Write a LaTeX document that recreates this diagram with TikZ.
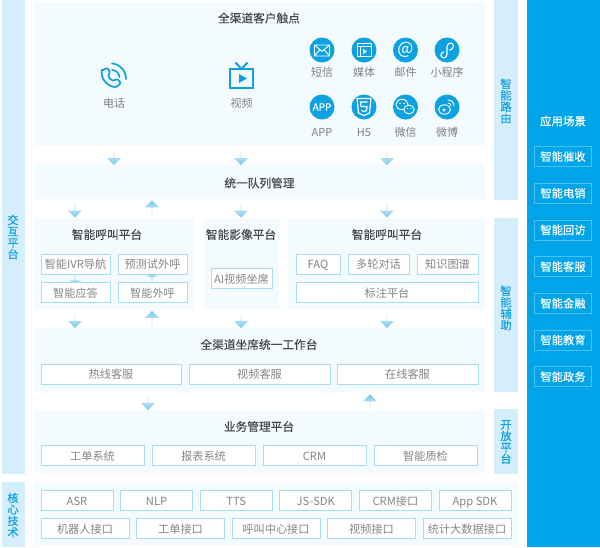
\documentclass[tikz,border=0pt]{standalone}
\usepackage{fontspec}
\setmainfont{Noto Sans CJK SC}
\newfontfamily\medfont[FakeBold=0.12]{Noto Sans CJK SC}
\newfontfamily\bandfont[FakeBold=0.3]{Noto Sans CJK SC}
\usepackage{xcolor}
\usetikzlibrary{shapes.arrows,positioning}

\definecolor{bandblue}{HTML}{D4EEFB}
\definecolor{panelblue}{HTML}{F4FBFF}
\definecolor{chipline}{HTML}{A8DCF1}
\definecolor{deepblue}{HTML}{00A5E9}
\definecolor{iconblue}{HTML}{0EA1E1}

\begin{document}
\begin{tikzpicture}[x=1pt, y=-1pt,
    band/.style={rectangle, fill=bandblue, anchor=north west, inner sep=0pt},
    bandtext/.style={align=center, text=iconblue, font=\fontsize{11.3}{11.4}\bandfont},
    panel/.style={rectangle, fill=panelblue, anchor=north west, inner sep=0pt},
    title/.style={text=black!72, inner sep=0pt, font=\fontsize{11.7}{14}\medfont},
    chip/.style={rectangle, draw=chipline, fill=white, line width=0.8pt, inner sep=0pt, outer sep=0pt, minimum height=20pt, text height=10.5pt, text depth=1pt, text=black!48, font=\fontsize{11.2}{13}\selectfont},
    appchip/.style={rectangle, draw=white!30!deepblue, line width=0.8pt, inner sep=0pt, outer sep=0pt, minimum width=57pt, minimum height=20pt, text=white, font=\fontsize{11.3}{13}\medfont},
    ball/.style={circle, fill=iconblue, inner sep=0pt, minimum size=25pt},
    balltext/.style={text=black!50, inner sep=0pt, font=\fontsize{11}{13}\selectfont},
    glyph/.style={draw=white, line width=0.9pt, line join=round, line cap=round},
    softdown/.style={single arrow, shape border rotate=270, minimum width=14pt, minimum height=15pt, single arrow head extend=3.5pt, inner sep=0pt, top color=bandblue!85, bottom color=chipline!70!iconblue},
    softup/.style={single arrow, shape border rotate=90, minimum width=14pt, minimum height=15pt, single arrow head extend=3.5pt, inner sep=0pt, top color=chipline!70!iconblue, bottom color=bandblue!85},
    tinydown/.style={softdown, minimum height=7pt, minimum width=12pt, single arrow head extend=2pt, single arrow tip angle=130},
    tinyup/.style={softup, minimum height=7pt, minimum width=12pt, single arrow head extend=2pt, single arrow tip angle=130}]

    \path [use as bounding box, fill=white] (0,0) rectangle (600,547);

    % side bands
    \node [band, minimum width=23pt, minimum height=474pt] (bandleft) at (2,0) {};
    \node [band, minimum width=23pt, minimum height=65pt] (bandcore) at (2,482) {};
    \node [band, minimum width=24pt, minimum height=200pt] (bandroute) at (494,0) {};
    \node [band, minimum width=24pt, minimum height=174pt] (bandassist) at (494,218) {};
    \node [band, minimum width=24pt, minimum height=65pt] (bandopen) at (494,409) {};
    \node [bandtext] (lblleft) at (13,237) {交\\互\\平\\台};
    \node [bandtext] (lblcore) at (13,515) {核\\心\\技\\术};
    \node [bandtext] (lblroute) at (506,101) {智\\能\\路\\由};
    \node [bandtext] (lblassist) at (506,308) {智\\能\\辅\\助};
    \node [bandtext] (lblopen) at (506,442) {开\\放\\平\\台};

    % panels
    \node [panel, minimum width=451pt, minimum height=144pt] (touch) at (34,2) {};
    \node [panel, minimum width=451pt, minimum height=35pt] (queue) at (34,164) {};
    \node [panel, minimum width=160pt, minimum height=92pt] (callL) at (34,218) {};
    \node [panel, minimum width=75pt, minimum height=92pt] (image) at (204,218) {};
    \node [panel, minimum width=197pt, minimum height=92pt] (callR) at (288,218) {};
    \node [panel, minimum width=451pt, minimum height=64pt] (desk) at (34,328) {};
    \node [panel, minimum width=451pt, minimum height=63pt] (biz) at (34,410) {};
    \node [panel, minimum width=484pt, minimum height=63pt] (core) at (34,483) {};

    \node [title] (ttouch) at (259,18) {全渠道客户触点};
    \node [title] (tqueue) at (259.5,183) {统一队列管理};
    \node [title] (tcallL) at (107,234.5) {智能呼叫平台};
    \node [title] (timage) at (241,234.5) {智能影像平台};
    \node [title] (tcallR) at (387,234.5) {智能呼叫平台};
    \node [title] (tdesk) at (259,344.5) {全渠道坐席统一工作台};
    \node [title] (tbiz) at (259,426.5) {业务管理平台};

    % soft arrows
    \node [softdown] (a1) at (114,157.5) {};
    \node [softdown] (a2) at (241,157.5) {};
    \node [softdown] (a3) at (387,157.5) {};
    \node [softdown] (a4) at (75,210) {};
    \node [softup] (a5) at (152,208) {};
    \node [softdown] (a6) at (241,210) {};
    \node [softdown] (a7) at (387,210) {};
    \node [tinydown] (a8) at (75,279.5) {};
    \node [tinyup] (a9) at (152,277.5) {};
    \node [softdown] (a10) at (75,320.5) {};
    \node [softup] (a11) at (152,318.5) {};
    \node [softdown] (a12) at (241,320.5) {};
    \node [softdown] (a13) at (387,320.5) {};
    \node [softdown] (a14) at (148,402.5) {};
    \node [softup] (a15) at (370,402) {};

    % call platform
    \node [chip, minimum width=69pt] (ivr) at (75.5,264) {智能IVR导航};
    \node [chip, minimum width=69pt, right=8pt of ivr] (predict) {预测试外呼};
    \node [chip, minimum width=69pt, below=8.5pt of ivr] (answer) {智能应答};
    \node [chip, minimum width=69pt, right=8pt of answer] (outcall) {智能外呼};
    \node [chip, minimum width=61pt] (aiseat) at (241.5,278.5) {AI视频坐席};
    \node [chip, minimum width=44pt] (faq) at (318,264) {FAQ};
    \node [chip, minimum width=61pt, right=8pt of faq] (multi) {多轮对话};
    \node [chip, minimum width=61pt, right=8pt of multi] (graph) {知识图谱};
    \node [chip, minimum width=182pt] (mark) at (387,292.5) {标注平台};

    % workbench and business
    \node [chip, minimum width=140pt] (hot) at (111,374) {热线客服};
    \node [chip, minimum width=141pt, right=8pt of hot] (video) {视频客服};
    \node [chip, minimum width=141pt, right=7pt of video] (online) {在线客服};
    \node [chip, minimum width=103pt] (order) at (92.5,455.5) {工单系统};
    \node [chip, minimum width=103pt, right=8pt of order] (report) {报表系统};
    \node [chip, minimum width=103pt, right=8pt of report] (crm) {CRM};
    \node [chip, minimum width=103pt, right=8pt of crm] (quality) {智能质检};

    % core tech
    \node [chip, minimum width=72pt] (asr) at (77,500.5) {ASR};
    \node [chip, minimum width=72pt, right=7.6pt of asr] (nlp) {NLP};
    \node [chip, minimum width=72pt, right=7.6pt of nlp] (tts) {TTS};
    \node [chip, minimum width=72pt, right=7.6pt of tts] (jssdk) {JS-SDK};
    \node [chip, minimum width=72pt, right=7.6pt of jssdk] (crmapi) {CRM接口};
    \node [chip, minimum width=72pt, right=7.6pt of crmapi] (appsdk) {App SDK};
    \node [chip, minimum width=88pt] (robot) at (85,528.5) {机器人接口};
    \node [chip, minimum width=88pt, right=7.5pt of robot] (orderapi) {工单接口};
    \node [chip, minimum width=88pt, right=7.5pt of orderapi] (callapi) {呼叫中心接口};
    \node [chip, minimum width=88pt, right=7.5pt of callapi] (videoapi) {视频接口};
    \node [chip, minimum width=88pt, right=7.5pt of videoapi] (statapi) {统计大数据接口};

    % scenes
    \node [band, fill=deepblue, minimum width=73pt, minimum height=547pt] (apps) at (527,0) {};
    \node [title, text=white, font=\fontsize{11.5}{13}\medfont] (tapps) at (563,121) {应用场景};
    \node [appchip] (app1) at (563,156.5) {智能催收};
    \node [appchip, below=16.7pt of app1] (app2) {智能电销};
    \node [appchip, below=16.7pt of app2] (app3) {智能回访};
    \node [appchip, below=16.7pt of app3] (app4) {智能客服};
    \node [appchip, below=16.7pt of app4] (app5) {智能金融};
    \node [appchip, below=16.7pt of app5] (app6) {智能教育};
    \node [appchip, below=16.7pt of app6] (app7) {智能政务};

    % big icons
    \draw [iconblue, line width=1.7pt, line join=round, rounded corners=1.5pt] (102,71) -- (107,67.5) -- (110.5,72.5) -- (108,74.5) .. controls (109,78) and (111,80) .. (114,81) -- (116.5,78.5) -- (121,82.5) -- (117,87) .. controls (108,87) and (101,79) .. cycle;
    \draw [iconblue, line width=1.7pt, line cap=round] (112,63.5) .. controls (120,64) and (126,71) .. (126,79);
    \draw [iconblue, line width=1.7pt, line cap=round] (112,70) .. controls (116,70) and (119,73) .. (119.5,77);
    \draw [iconblue, line width=2pt] (230,69) rectangle (253,88);
    \draw [iconblue, line width=2pt] (241.5,69) -- (235.5,62.5) (241.5,69) -- (247.5,62.5);
    \fill [iconblue] (239,74) -- (247,78.5) -- (239,83) -- cycle;
    \node [balltext] (lbltel) at (114,103) {电话};
    \node [balltext] (lbltv) at (241.5,103) {视频};

    % small icons
    \node [ball] (sms) at (322,50) {};
    \node [ball] (media) at (364,50) {};
    \node [ball] (mail) at (405.5,50) {};
    \node [ball] (mini) at (447,50) {};
    \node [ball, text=white, font=\fontsize{10}{11}\medfont] (app) at (322,107) {APP};
    \node [ball] (hfive) at (364,107) {};
    \node [ball] (wechat) at (405.5,107) {};
    \node [ball] (weibo) at (447,107) {};
    \node [balltext] (lsms) at (322,72) {短信};
    \node [balltext] (lmedia) at (364,72) {媒体};
    \node [balltext] (lmail) at (405.5,72) {邮件};
    \node [balltext] (lmini) at (447,72) {小程序};
    \node [balltext] (lapp) at (322,132.5) {APP};
    \node [balltext] (lhfive) at (364,132.5) {H5};
    \node [balltext] (lwechat) at (405.5,132.5) {微信};
    \node [balltext] (lweibo) at (447,132.5) {微博};

    \draw [glyph] (314.5,45) rectangle (329.5,56) (314.5,45) -- (322,51.5) -- (329.5,45) (314.5,56) -- (320,49.5) (329.5,56) -- (324,49.5);
    \draw [glyph] (357,43.5) rectangle (371,56.5) (357,46.5) -- (371,46.5) (360,46.5) -- (360,56.5);
    \fill [white] (363,49) -- (367,51.5) -- (363,54) -- cycle;
    \node [text=white, inner sep=0pt, font=\fontsize{17}{17}\selectfont] (at) at (mail) {@};
    \draw [glyph, line width=1.1pt] (441,55) .. controls (441,59) and (447,59) .. (447,54) -- (447,47) .. controls (447,42) and (453.5,42) .. (453.5,46) .. controls (453.5,49) and (451,50) .. (449.5,50);
    \draw [glyph, line width=1.1pt] (441,55) .. controls (441,53) and (442.5,52) .. (444,52);
    \draw [glyph, line width=1.2pt] (357,98.5) -- (371,98.5) -- (369.5,113) -- (364,115.5) -- (358.5,113) -- cycle;
    \draw [glyph, line width=1.2pt, line cap=butt] (367.5,102) -- (360.5,102) -- (361,106.5) -- (367,106.5) -- (366.5,110.5) -- (364,111.5) -- (361.5,110.5);
    \draw [glyph, fill=iconblue] (402,104.5) ellipse [x radius=6, y radius=5.2];
    \draw [glyph, fill=iconblue] (409,109.5) ellipse [x radius=5.2, y radius=4.4];
    \fill [white] (400,103.5) circle (0.8) (404,103.5) circle (0.8) (407.5,108.5) circle (0.7) (411,108.5) circle (0.7);
    \draw [glyph] (444.5,109.5) ellipse [x radius=6, y radius=4.7];
    \fill [white] (444,110) circle (1.6);
    \draw [glyph] (448,100) .. controls (451.5,100) and (454,102.5) .. (454,106);
    \draw [glyph] (448,103) .. controls (450,103) and (451,104) .. (451,106);
\end{tikzpicture}
\end{document}
